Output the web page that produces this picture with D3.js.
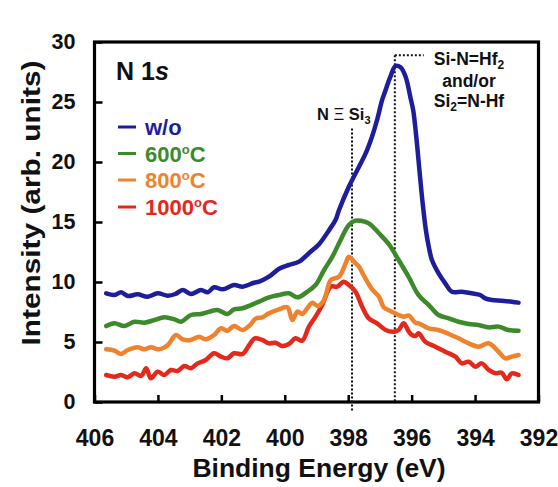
<!DOCTYPE html>
<html><head><meta charset="utf-8">
<script src="https://cdn.jsdelivr.net/npm/d3@7"></script>
<style>
body{margin:0;background:#fff}
svg{display:block}
text{font-family:"Liberation Sans",Arial,Helvetica,sans-serif;font-weight:bold}
</style>
</head><body>
<svg id="chart" width="558" height="487"></svg>
<script>
const xTickValues = [406, 404, 402, 400, 398, 396, 394, 392];
const yTickValues = [0, 5, 10, 15, 20, 25, 30];
const seriesLabels = ["w/o", "600", "800", "1000"];
const seriesColors = ["#1e1e9c", "#3d8a2c", "#f0822e", "#e4281c"];

const energyWo = [405.63,405.37,405.16,404.95,404.64,404.32,404.01,403.69,403.45,403.22,402.96,402.64,402.43,402.23,401.96,401.6,401.33,400.97,400.81,400.5,400.18,399.87,399.55,399.24,398.92,398.61,398.4,398.29,397.98,397.66,397.45,397.25,397.09,396.93,396.82,396.67,396.51,396.35,396.19,396.04,395.95,395.85,395.75,395.65,395.55,395.45,395.36,395.15,394.94,394.73,394.42,394.1,393.84,393.68,393.47,393.16,392.84,392.63];
const intensityWo = [9.06,8.92,9.14,8.83,8.97,8.78,9.06,8.86,9.0,9.33,9.0,9.33,9.14,9.56,9.39,9.75,9.61,9.94,10.03,10.44,11.1,11.42,11.7,12.4,13.15,14.3,15.17,16.0,17.94,19.61,20.72,22.11,23.5,25.17,26.0,27.11,28.0,27.89,27.11,25.4,24.3,22.0,19.2,16.5,14.3,12.8,11.83,10.72,9.89,9.19,9.19,9.06,8.92,8.64,8.5,8.44,8.36,8.28];

const energy600 = [405.63,405.37,405.06,404.74,404.43,404.11,403.8,403.48,403.27,402.96,402.64,402.38,402.12,401.81,401.6,401.33,401.07,400.81,400.5,400.18,399.87,399.6,399.29,399.03,398.76,398.5,398.24,397.98,397.77,397.6,397.35,397.03,396.72,396.41,396.09,395.78,395.46,395.15,394.83,394.52,394.2,393.89,393.57,393.26,392.95,392.63];
const intensity600 = [6.33,6.56,6.33,6.69,6.61,6.83,7.06,6.89,6.69,7.25,7.33,7.53,7.67,7.33,7.72,7.81,8.08,8.36,8.72,8.92,9.06,8.72,9.19,9.75,11.0,12.11,13.5,14.75,15.11,15.1,14.89,14.06,13.15,11.83,10.4,8.9,8.08,7.25,6.97,6.69,6.5,6.42,6.22,6.28,6.0,5.94];

const energy800 = [405.63,405.37,405.16,404.95,404.64,404.43,404.22,403.96,403.69,403.43,403.22,402.96,402.7,402.49,402.23,402.01,401.81,401.6,401.33,401.1,400.91,400.71,400.5,400.18,399.92,399.76,399.6,399.45,399.29,399.13,398.97,398.76,398.55,398.29,398.08,397.98,397.77,397.66,397.5,397.25,397.03,396.88,396.62,396.41,396.25,396.09,395.88,395.78,395.46,395.15,394.83,394.52,394.2,393.89,393.57,393.26,393.05,392.84,392.63];
const intensity800 = [4.39,4.28,4.0,4.33,4.56,4.39,4.56,4.39,4.75,5.58,5.22,5.17,5.44,5.22,5.58,6.14,5.94,6.33,6.0,6.4,6.97,7.06,7.39,7.72,7.89,6.83,7.53,7.33,7.81,8.28,8.0,8.5,10.17,10.44,11.56,12.11,11.56,11.28,10.5,9.4,8.78,7.9,7.53,7.25,7.11,7.2,6.6,6.56,6.14,6.0,5.67,5.31,4.89,4.61,4.89,4.19,3.64,3.78,3.92];

const energy1000 = [405.63,405.37,405.16,404.95,404.74,404.53,404.37,404.22,404.01,403.8,403.59,403.38,403.17,402.96,402.75,402.49,402.23,402.01,401.81,401.6,401.33,401.12,400.95,400.71,400.5,400.29,400.08,399.87,399.66,399.45,399.24,399.03,398.82,398.55,398.35,398.14,397.98,397.77,397.56,397.35,397.09,396.82,396.56,396.41,396.25,396.09,395.99,395.88,395.78,395.57,395.25,394.94,394.62,394.42,394.2,393.99,393.79,393.57,393.36,393.16,393.0,392.84,392.63];
const intensity1000 = [2.25,2.11,2.25,2.06,2.39,2.17,2.81,1.97,2.53,2.25,2.67,2.58,3.0,2.81,3.22,3.5,4.06,3.78,3.64,4.06,4.0,4.75,5.3,5.17,4.89,4.94,4.67,4.83,5.31,5.11,6.28,7.11,8.08,9.61,9.61,10.03,9.75,9.19,7.94,6.97,6.56,6.0,5.86,6.0,6.56,5.86,5.58,5.5,5.72,5.03,4.61,4.19,3.78,3.22,3.36,2.94,3.22,2.67,2.39,2.44,1.89,2.39,2.25];

const markerNSi3 = {energy: 397.88, top: 22.8, bottom: -0.7};
const markerSiNHf = {energy: 396.53, top: 28.9, bottom: 0, end: 395.62};

const svg = d3.select("#chart");
const x = d3.scaleLinear().domain([406, 392]).range([94.5, 538.5]);
const y = d3.scaleLinear().domain([0, 30]).range([402, 42]);

// axes
const xAxis = d3.axisBottom(x).tickValues(xTickValues).tickSize(-7).tickPadding(28).tickFormat(d3.format("d"));
const gx = svg.append("g").attr("transform", "translate(0,402)").call(xAxis);
gx.select(".domain").remove();
gx.selectAll("line").attr("stroke", "#000").attr("stroke-width", 2.5);
gx.selectAll("text").attr("font-size", 23).attr("fill", "#111");

const yAxis = d3.axisLeft(y).tickValues(yTickValues).tickSize(-8).tickPadding(19).tickFormat(d3.format("d"));
const gy = svg.append("g").attr("transform", "translate(94.5,0)").call(yAxis);
gy.select(".domain").remove();
gy.selectAll("line").attr("stroke", "#000").attr("stroke-width", 2.5);
gy.selectAll("text").attr("font-size", 21.5).attr("fill", "#111");

// frame
svg.append("rect").attr("x", x(406)).attr("y", y(30))
  .attr("width", x(392) - x(406)).attr("height", y(0) - y(30))
  .attr("fill", "none").attr("stroke", "#000").attr("stroke-width", 3.2);

// dotted markers
function dotted(x1, y1, x2, y2) {
  svg.append("line").attr("x1", x1).attr("y1", y1).attr("x2", x2).attr("y2", y2)
    .attr("stroke", "#111").attr("stroke-width", 2).attr("stroke-dasharray", "2,2");
}
dotted(x(markerNSi3.energy), y(markerNSi3.top), x(markerNSi3.energy), y(markerNSi3.bottom));
dotted(x(markerSiNHf.energy), y(markerSiNHf.top), x(markerSiNHf.energy), y(markerSiNHf.bottom));
dotted(x(markerSiNHf.energy), y(markerSiNHf.top), x(markerSiNHf.end), y(markerSiNHf.top));

// curves
const series = [
  [energyWo, intensityWo], [energy600, intensity600], [energy800, intensity800], [energy1000, intensity1000]
];
const line = d3.line().x(d => x(d[0])).y(d => y(d[1])).curve(d3.curveCatmullRom.alpha(0.5));
series.slice().reverse().forEach((s, ri) => {
  const i = series.length - 1 - ri;
  const pts = s[0].map((e, k) => [e, s[1][k]]);
  svg.append("path").attr("d", line(pts)).attr("fill", "none")
    .attr("stroke", seriesColors[i]).attr("stroke-width", 4.5)
    .attr("stroke-linejoin", "round").attr("stroke-linecap", "round");
});

// N 1s label
const t1 = svg.append("text").attr("x", 116).attr("y", 80).attr("font-size", 25).attr("fill", "#111");
t1.append("tspan").text("N 1");
t1.append("tspan").attr("font-style", "italic").text("s");

// legend
const legendY = [127, 153.5, 180, 207];
seriesLabels.forEach((lab, i) => {
  svg.append("line").attr("x1", 118).attr("x2", 136).attr("y1", legendY[i]).attr("y2", legendY[i])
    .attr("stroke", seriesColors[i]).attr("stroke-width", 3);
  const t = svg.append("text").attr("x", 145).attr("y", legendY[i] + 8).attr("font-size", 22).attr("fill", seriesColors[i]);
  if (i === 0) { t.text(lab); }
  else {
    t.append("tspan").text(lab);
    t.append("tspan").attr("font-size", 13).attr("dy", -8).text("o");
    t.append("tspan").attr("dy", 8).text("C");
  }
});

// annotations
const a1 = svg.append("text").attr("x", 317).attr("y", 120).attr("font-size", 16.5).attr("fill", "#111");
a1.append("tspan").text("N ");
a1.append("tspan").attr("font-weight", "normal").text("\u039E");
a1.append("tspan").text(" Si");
a1.append("tspan").attr("font-size", 11).attr("dy", 4).text("3");

const a2 = svg.append("text").attr("x", 469).attr("y", 65).attr("text-anchor", "middle").attr("font-size", 17.5).attr("fill", "#111");
a2.append("tspan").text("Si-N=Hf");
a2.append("tspan").attr("font-size", 12).attr("dy", 4).text("2");
svg.append("text").attr("x", 469).attr("y", 86.5).attr("text-anchor", "middle").attr("font-size", 17.5).attr("fill", "#111").text("and/or");
const a3 = svg.append("text").attr("x", 469).attr("y", 107).attr("text-anchor", "middle").attr("font-size", 17.5).attr("fill", "#111");
a3.append("tspan").text("Si");
a3.append("tspan").attr("font-size", 12).attr("dy", 4).text("2");
a3.append("tspan").attr("dy", -4).text("=N-Hf");

// axis titles
svg.append("text").attr("x", 319).attr("y", 477).attr("text-anchor", "middle").attr("font-size", 26.5).attr("fill", "#111")
  .text("Binding Energy (eV)");
svg.append("text").attr("transform", "translate(40,203) rotate(-90)").attr("text-anchor", "middle")
  .attr("font-size", 25).attr("fill", "#111").attr("textLength", 285).attr("lengthAdjust", "spacingAndGlyphs")
  .text("Intensity (arb. units)");
</script>
</body></html>
